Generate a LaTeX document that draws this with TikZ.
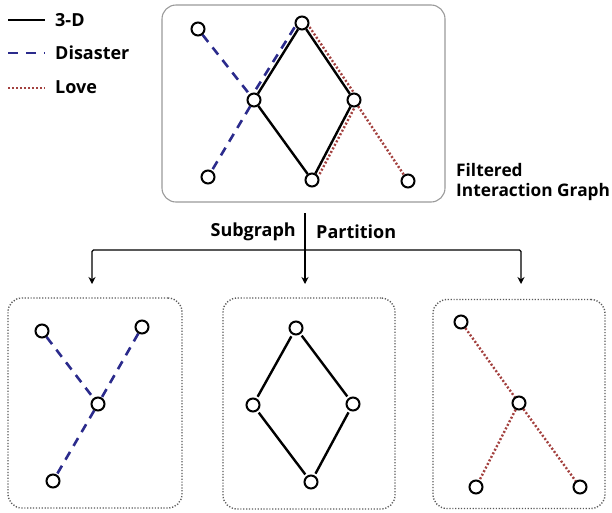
\documentclass[tikz,border=0pt]{standalone}
\usepackage{fontspec}
\setmainfont{Open Sans}
\usetikzlibrary{arrows.meta,backgrounds}
\definecolor{disblue}{HTML}{2B2B8C}
\definecolor{lovered}{HTML}{A3413F}
\definecolor{framegray}{HTML}{9A9A9A}
\definecolor{dotgray}{HTML}{5A5A5A}
\tikzset{
  vtx/.style={circle, draw=black, fill=white, line width=2pt, minimum size=13pt, inner sep=0pt},
  threed/.style={black, line width=2.4pt},
  disaster/.style={disblue, line width=2.6pt, dash pattern=on 9pt off 7pt},
  love/.style={lovered, line width=2.4pt, dash pattern=on 2pt off 2pt},
  mainframe/.style={draw=framegray, line width=1.1pt, rounded corners=14pt},
  subframe/.style={draw=dotgray, line width=1.4pt, dash pattern=on 1.2pt off 1.7pt, rounded corners=14pt},
  lbl/.style={font=\bfseries\fontsize{18}{20}\selectfont, inner sep=0pt},
  caption/.style={font=\bfseries\fontsize{17.3}{20}\selectfont, inner sep=0pt},
  arr/.style={line width=1.2pt, -{Stealth[length=7pt,width=7pt]}},
  bar/.style={line width=1.2pt}
}
\begin{document}
\begin{tikzpicture}[x=1pt,y=-1pt]
\useasboundingbox (0,0) rectangle (612,512);

% legend
\draw[threed] (8,20) -- (45,20);
\draw[disaster, dash pattern=on 10pt off 8pt] (8,53) -- (45,53);
\draw[love] (8,88) -- (45,88);
\node[lbl, anchor=west] (l3d) at (55,20) {3-D};
\node[lbl, anchor=west] (ldis) at (55,53) {Disaster};
\node[lbl, anchor=west] (llove) at (55,87) {Love};

% filtered interaction graph
\node[mainframe, minimum width=283pt, minimum height=197pt] (top) at (303.5,103.5) {};
\node[vtx] (A) at (198,29) {};
\node[vtx] (B) at (302,23) {};
\node[vtx] (C) at (254,100) {};
\node[vtx] (D) at (354,100) {};
\node[vtx] (E) at (208,177) {};
\node[vtx] (F) at (312,180) {};
\node[vtx] (G) at (408,181) {};
\begin{scope}[on background layer]
  \draw[threed] (B) -- (C);
  \draw[threed] (B) -- (D);
  \draw[threed] (C) -- (F);
  \draw[threed] (D) -- (F);
  \draw[disaster] (A) -- (C);
  \draw[disaster, transform canvas={xshift=-3.4pt, yshift=2.1pt}] (B) -- (C);
  \draw[disaster] (C) -- (E);
  \draw[love, transform canvas={xshift=3.3pt, yshift=2.2pt}] (B) -- (D);
  \draw[love, transform canvas={xshift=3.5pt, yshift=-1.9pt}] (D) -- (F);
  \draw[love] (D) -- (G);
\end{scope}
\node[caption, anchor=west, align=left] (ftitle) at (456,182) {Filtered\\Interaction Graph};

% partition arrows
\coordinate (s) at (305,213);
\coordinate (c) at (305,250);
\coordinate (t1) at (92,284);
\coordinate (t2) at (305,284);
\coordinate (t3) at (521,284);
\draw[arr] (s) -- (t2);
\draw[arr, rounded corners=1.5pt] (c) -| (t1);
\draw[arr, rounded corners=1.5pt] (c) -| (t3);
\node[lbl, anchor=east] (sub) at (296,232) {Subgraph};
\node[lbl, anchor=west] (part) at (316,232) {Partition};

% disaster subgraph
\node[subframe, minimum width=174pt, minimum height=210pt] (box1) at (95,403) {};
\node[vtx] (d1) at (42,331) {};
\node[vtx] (d2) at (142,327) {};
\node[vtx] (d3) at (98,404) {};
\node[vtx] (d4) at (53,481) {};
\begin{scope}[on background layer]
  \draw[disaster] (d1) -- (d3);
  \draw[disaster] (d2) -- (d3);
  \draw[disaster] (d3) -- (d4);
\end{scope}

% 3-D subgraph
\node[subframe, minimum width=172pt, minimum height=211pt] (box2) at (309,403.5) {};
\node[vtx] (m1) at (296,328) {};
\node[vtx] (m2) at (253,405) {};
\node[vtx] (m3) at (353,404) {};
\node[vtx] (m4) at (311,482) {};
\begin{scope}[on background layer]
  \draw[threed, shorten <=2pt, shorten >=2pt] (m1) -- (m2);
  \draw[threed, shorten <=2pt, shorten >=2pt] (m1) -- (m3);
  \draw[threed, shorten <=2pt, shorten >=2pt] (m2) -- (m4);
  \draw[threed, shorten <=2pt, shorten >=2pt] (m3) -- (m4);
\end{scope}

% love subgraph
\node[subframe, minimum width=172pt, minimum height=209pt] (box3) at (519,404) {};
\node[vtx] (r1) at (461,322) {};
\node[vtx] (r2) at (519,403) {};
\node[vtx] (r3) at (476,487) {};
\node[vtx] (r4) at (580,487) {};
\begin{scope}[on background layer]
  \draw[love] (r1) -- (r2);
  \draw[love] (r2) -- (r3);
  \draw[love] (r2) -- (r4);
\end{scope}
\end{tikzpicture}
\end{document}
